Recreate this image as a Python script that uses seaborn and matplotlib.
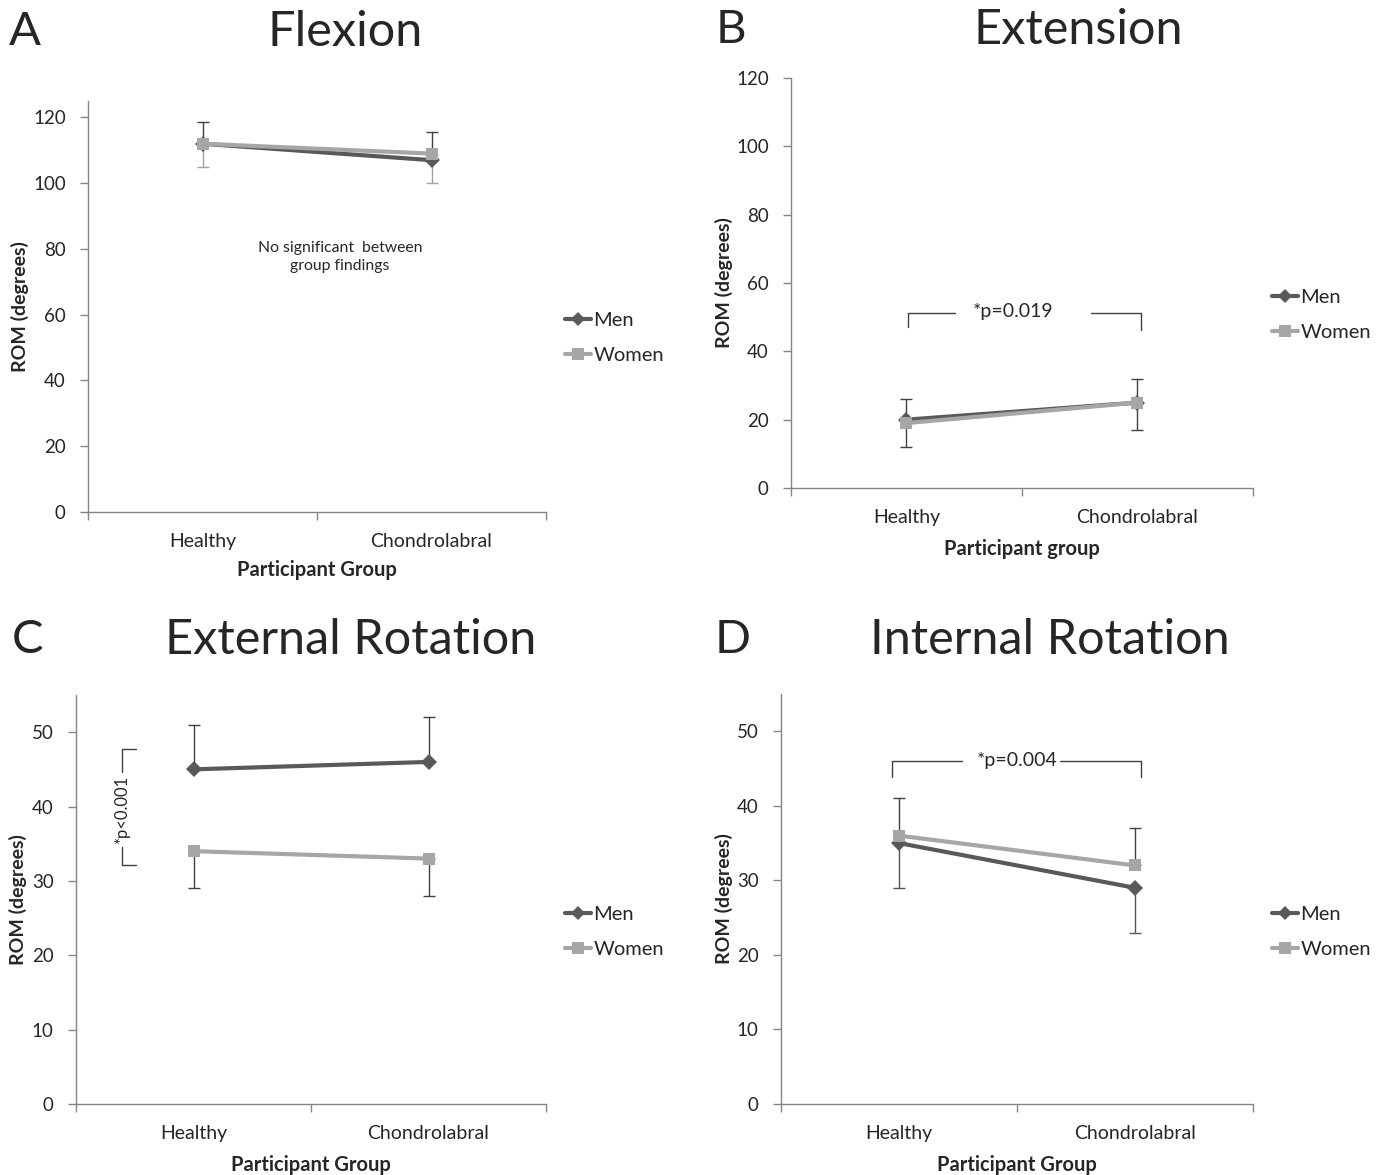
import pandas as pd
import seaborn as sns
import matplotlib.pyplot as plt
from matplotlib.lines import Line2D

# Data
groups = ['Healthy', 'Chondrolabral']

flex_men = [112, 107]
flex_women = [112, 109]
flex_men_sd = [6.5, 8.5]     # drawn upwards
flex_women_sd = [7, 9]       # drawn downwards

ext_men = [20, 25]
ext_women = [19, 25]
ext_men_sd = [6, 7]
ext_women_sd = [7, 8]

er_men = [45, 46]
er_women = [34, 33]
er_men_sd = [6, 6]
er_women_sd = [5, 5]

ir_men = [35, 29]
ir_women = [36, 32]
ir_men_sd = [6, 6]           # drawn downwards
ir_women_sd = [5, 5]         # drawn upwards

sns.set_style('white')
plt.rcParams['font.family'] = ['Lato', 'DejaVu Sans']

MEN_C = '#595959'
WOMEN_C = '#a6a6a6'
AXIS_C = '#868686'
W, H = 1380, 1175

fig = plt.figure(figsize=(13.8, 11.75), dpi=100)


def px_rect(left, right, top, bottom):
    return [left / W, 1 - bottom / H, (right - left) / W, (bottom - top) / H]


def fig_xy(x, y):
    return x / W, 1 - y / H


def make_panel(rect, men, women, men_sd, women_sd, men_up, ylim, ystep,
               xlabel, ylabel_x, xlabel_y, low_err_c):
    ax = fig.add_axes(rect)
    df = pd.DataFrame({
        'group': groups * 2,
        'rom': men + women,
        'sex': ['Men'] * 2 + ['Women'] * 2,
    })
    # error bars (one sided, as in the original)
    if men_up:
        ax.errorbar([0, 1], men, yerr=[[0, 0], men_sd], fmt='none',
                    ecolor='#404040', elinewidth=1, capsize=4, capthick=1, zorder=2)
        ax.errorbar([0, 1], women, yerr=[women_sd, [0, 0]], fmt='none',
                    ecolor=low_err_c, elinewidth=1, capsize=4, capthick=1, zorder=2)
    else:
        ax.errorbar([0, 1], women, yerr=[[0, 0], women_sd], fmt='none',
                    ecolor='#404040', elinewidth=1, capsize=4, capthick=1, zorder=2)
        ax.errorbar([0, 1], men, yerr=[men_sd, [0, 0]], fmt='none',
                    ecolor=low_err_c, elinewidth=1, capsize=4, capthick=1, zorder=2)
    sns.lineplot(data=df, x='group', y='rom', hue='sex', style='sex',
                 hue_order=['Men', 'Women'], style_order=['Men', 'Women'],
                 palette={'Men': MEN_C, 'Women': WOMEN_C},
                 markers={'Men': 'D', 'Women': 's'}, dashes=False,
                 linewidth=3, markersize=8, markeredgewidth=0,
                 sort=False, legend=False, ax=ax, zorder=3)
    ax.set_xlim(-0.5, 1.5)
    ax.set_ylim(*ylim)
    ax.set_yticks(range(0, ylim[1] + 1 if ylim[1] % ystep == 0 else ylim[1], ystep))
    ax.set_xticks([0, 1], groups)
    ax.set_xticks([-0.5, 0.5, 1.5], minor=True)
    ax.tick_params(axis='x', which='major', length=0, pad=15, labelsize=14)
    ax.tick_params(axis='x', which='minor', length=6, width=1, color=AXIS_C,
                   direction='out', bottom=True)
    ax.tick_params(axis='y', length=6, width=1, color=AXIS_C, direction='out',
                   left=True, pad=10, labelsize=13.5)
    for s in ['top', 'right']:
        ax.spines[s].set_visible(False)
    for s in ['left', 'bottom']:
        ax.spines[s].set_color(AXIS_C)
        ax.spines[s].set_linewidth(1)
    ax.set_xlabel(xlabel, fontsize=14.5, fontweight='bold')
    ax.set_ylabel('ROM (degrees)', fontsize=14, fontweight='bold')
    ax.yaxis.set_label_coords(ylabel_x, 0.5)
    ax.xaxis.set_label_coords(0.5, xlabel_y)
    return ax


def add_legend(ax, x, y):
    handles = [
        Line2D([], [], color=MEN_C, lw=3, marker='D', markersize=7, markeredgewidth=0),
        Line2D([], [], color=WOMEN_C, lw=3, marker='s', markersize=8, markeredgewidth=0),
    ]
    ax.legend(handles, ['Men', 'Women'], loc='center left',
              bbox_to_anchor=fig_xy(x, y), bbox_transform=fig.transFigure,
              frameon=False, fontsize=14.5, handlelength=1.3, handletextpad=0.1,
              borderpad=0, borderaxespad=0, labelspacing=0.85)


def add_titles(letter, lx, title, tx, ty):
    fig.text(*fig_xy(lx, ty), letter, fontsize=34, ha='center', va='center')
    fig.text(*fig_xy(tx, ty), title, fontsize=35, ha='center', va='center')


# A - Flexion
axA = make_panel(px_rect(88, 546, 101, 512), flex_men, flex_women,
                 flex_men_sd, flex_women_sd, True, (0, 125), 20,
                 'Participant Group', -0.129, -0.117, '#a0a0a0')
axA.text(0.6, 77.5, 'No significant  between\ngroup findings', fontsize=11.3,
         ha='center', va='center', linespacing=1.35)
add_legend(axA, 565, 338)
add_titles('A', 25, 'Flexion', 345, 32)

# B - Extension
axB = make_panel(px_rect(791, 1253, 78, 488), ext_men, ext_women,
                 ext_men_sd, ext_women_sd, True, (0, 120), 20,
                 'Participant group', -0.126, -0.124, '#404040')
br = dict(color='#404040', lw=1, zorder=4)
axB.plot([0.005, 0.005, 0.21], [47.2, 51.3, 51.3], **br)
axB.plot([0.80, 1.015, 1.015], [51.3, 51.3, 46.2], **br)
axB.text(0.461, 51.8, '*p=0.019', fontsize=14, ha='center', va='center')
add_legend(axB, 1272, 315)
add_titles('B', 731, 'Extension', 1078, 30)

# C - External Rotation
axC = make_panel(px_rect(76, 546, 695, 1104), er_men, er_women,
                 er_men_sd, er_women_sd, True, (0, 55), 10,
                 'Participant Group', -0.104, -0.125, '#404040')
axC.plot([-0.245, -0.306, -0.306], [47.7, 47.7, 44.6], **br)
axC.plot([-0.306, -0.306, -0.245], [34.5, 32.2, 32.2], **br)
axC.text(-0.306, 39.5, '*p<0.001', fontsize=12, rotation=90,
         ha='center', va='center')
add_legend(axC, 565, 932)
add_titles('C', 28, 'External Rotation', 351, 640)

# D - Internal Rotation
axD = make_panel(px_rect(781, 1253, 694, 1104), ir_men, ir_women,
                 ir_men_sd, ir_women_sd, False, (0, 55), 10,
                 'Participant Group', -0.102, -0.125, '#555555')
axD.plot([-0.03, -0.03, 0.266], [43.8, 46.0, 46.0], **br)
axD.plot([0.682, 1.025, 1.025], [46.0, 46.0, 43.8], **br)
axD.text(0.499, 46.1, '*p=0.004', fontsize=14, ha='center', va='center')
add_legend(axD, 1272, 932)
add_titles('D', 733, 'Internal Rotation', 1050, 640)

fig.savefig('out.png', dpi=100)
